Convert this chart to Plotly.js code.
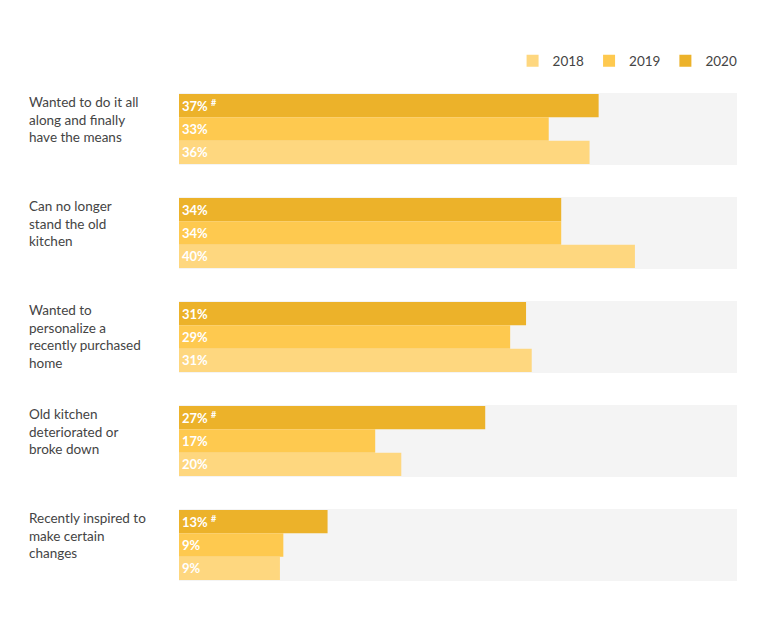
<!DOCTYPE html>
<html>
<head>
<meta charset="utf-8">
<script src="https://cdn.plot.ly/plotly-3.0.1.min.js"></script>
<style>
  html, body { margin: 0; padding: 0; background: #fff; }
  #chart { width: 760px; height: 630px; }
</style>
</head>
<body>
<div id="chart"></div>
<script>
// reasons for renovating the kitchen, share of homeowners
const categories = [
    'Wanted to do it all<br>along and finally<br>have the means',
    'Can no longer<br>stand the old<br>kitchen',
    'Wanted to<br>personalize a<br>recently purchased<br>home',
    'Old kitchen<br>deteriorated or<br>broke down',
    'Recently inspired to<br>make certain<br>changes'
];
const years = ['2020', '2019', '2018'];
const values2020 = [37.0, 33.7, 30.6, 27.0, 13.1];
const values2019 = [32.6, 33.7, 29.2, 17.3, 9.2];
const values2018 = [36.2, 40.2, 31.1, 19.6, 8.9];
// "#" = significant change vs previous year
const flags2020 = [' <sup>#</sup>', '', '', ' <sup>#</sup>', ' <sup>#</sup>'];

const colors = { '2020': '#ecb22a', '2019': '#fec94f', '2018': '#fed77f' };
const series = { '2020': values2020, '2019': values2019, '2018': values2018 };

const traces = years.map(yr => ({
    type: 'bar',
    orientation: 'h',
    name: yr,
    y: categories,
    x: series[yr],
    customdata: yr === '2020' ? flags2020 : categories.map(() => ''),
    texttemplate: '%{x:.0f}%%{customdata}',
    textposition: 'inside',
    insidetextanchor: 'start',
    textangle: 0,
    constraintext: 'none',
    textfont: { family: 'Lato', size: 13, color: '#ffffff', weight: 700 },
    marker: { color: colors[yr], line: { width: 0 } },
    hoverinfo: 'skip'
}));

// grey band behind each group
const bands = categories.map((c, i) => ({
    type: 'rect', layer: 'below',
    xref: 'paper', x0: 0, x1: 1,
    yref: 'y', y0: i - 0.345, y1: i + 0.345,
    fillcolor: '#f4f4f4', line: { width: 0 }
}));

const labels = categories.map(c => ({
    xref: 'paper', x: -0.2725, xanchor: 'left',
    yref: 'y', y: c, yanchor: 'top', yshift: 37,
    text: c, align: 'left', showarrow: false,
    font: { family: 'Lato', size: 13.5, color: '#444444' }
}));

const layout = {
    width: 760, height: 630,
    margin: { l: 179, r: 23, t: 77, b: 33 },
    barmode: 'group',
    bargap: 0.327,
    bargroupgap: 0,
    paper_bgcolor: '#ffffff',
    plot_bgcolor: 'rgba(0,0,0,0)',
    font: { family: 'Lato', color: '#444444' },
    xaxis: { range: [0, 49.2], showgrid: false, zeroline: false, showticklabels: false, fixedrange: true },
    yaxis: { autorange: 'reversed', showgrid: false, zeroline: false, showticklabels: false, fixedrange: true },
    showlegend: true,
    legend: {
        orientation: 'h', traceorder: 'reversed',
        x: 1.01, xanchor: 'right', y: 1.031, yanchor: 'middle',
        font: { family: 'Lato', size: 13.5, color: '#444444' },
        itemwidth: 30
    },
    shapes: bands,
    annotations: labels
};

Plotly.newPlot('chart', traces, layout, { displayModeBar: false, staticPlot: true });
</script>
</body>
</html>
